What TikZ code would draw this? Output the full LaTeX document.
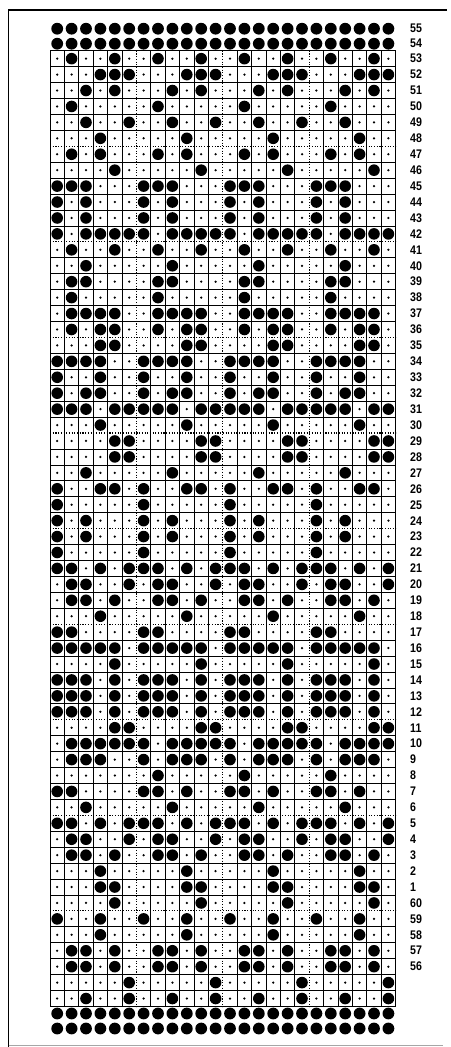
\documentclass[tikz,border=0pt]{standalone}
\usepackage{fontspec}
\newfontfamily\rowfont[FakeStretch=0.85]{Liberation Sans}
\newcommand\colw{14.4}
\newcommand\rowh{15.93}
\newcommand\gridx{50}
\newcommand\gridy{50.7}
% one cell of the card: column, row index, punched or not
\newcommand\punch[3]{%
  \ifnum#3=1
    \fill ({\gridx+(#1-0.5)*\colw},{\gridy+(#2+0.5)*\rowh}) circle (5.8pt);
  \else
    \fill ({\gridx+(#1-0.5)*\colw},{\gridy+(#2+0.5)*\rowh}) circle (1.25pt);
  \fi}

\begin{document}
\begin{tikzpicture}[x=1pt, y=-1pt,
        gridline/.style={line width=0.75pt},
        guide/.style={line width=1.1pt, dash pattern=on 1.1pt off 1.6pt},
        cardborder/.style={line width=0.9pt},
        rownum/.style={font=\rowfont\bfseries\fontsize{12.5}{12.5}\selectfont, anchor=west, inner sep=0pt}
    ]
        \useasboundingbox (0,0) rectangle (450,1047);

        % Card frame
        \draw[line width=1.5pt] (8.5,1047) -- (8.5,10) -- (447,10);
        \draw[line width=0.8pt, black!35] (8.5,1045.5) -- (443,1045.5);

        % Grid, every sixth line dotted
        \foreach \r in {1,...,59} {
            \pgfmathtruncatemacro\m{mod(\r,6)}
            \ifnum\m=0
                \draw[guide] ({\gridx},{\gridy+\r*\rowh}) -- ++({24*\colw},0);
            \else
                \draw[gridline] ({\gridx},{\gridy+\r*\rowh}) -- ++({24*\colw},0);
            \fi
        }
        \foreach \cc in {1,...,23} {
            \pgfmathtruncatemacro\m{mod(\cc,6)}
            \ifnum\m=0
                \draw[guide] ({\gridx+\cc*\colw},{\gridy}) -- ++(0,{60*\rowh});
            \else
                \draw[gridline] ({\gridx+\cc*\colw},{\gridy}) -- ++(0,{60*\rowh});
            \fi
        }
        \draw[cardborder] ({\gridx},{\gridy}) rectangle ++({24*\colw},{60*\rowh});

        % Pattern: one 6-stitch repeat per row, 1 = punched
        \foreach \pa/\pb/\pc/\pd/\pe/\pf [count=\i from 0] in {
            0/1/0/0/1/0, 0/0/0/1/1/1, 0/0/1/0/1/0, 0/1/0/0/0/0, % 53-50
            0/0/1/0/0/1, 0/0/0/1/0/0, 0/1/0/1/0/0, 0/0/0/0/1/0, % 49-46
            1/1/1/0/0/0, 1/0/1/0/0/0, 1/0/1/0/0/0, 1/0/1/1/1/1, % 45-42
            0/1/0/0/1/0, 0/0/1/0/0/0, 0/1/1/0/0/0, 0/1/0/0/0/0, % 41-38
            0/1/1/1/1/0, 0/1/0/1/1/0, 0/0/0/1/1/0, 1/1/1/1/0/0, % 37-34
            1/0/0/1/0/0, 1/0/1/1/0/0, 1/1/1/0/1/1, 0/0/0/1/0/0, % 33-30
            0/0/0/0/1/1, 0/0/0/0/1/1, 0/0/1/0/0/0, 1/0/0/1/1/0, % 29-26
            1/0/0/0/0/0, 1/0/1/0/0/0, 1/0/1/0/0/0, 1/0/0/0/0/0, % 25-22
            1/1/0/1/0/1, 0/1/1/0/0/1, 0/1/1/0/1/0, 0/0/0/1/0/0, % 21-18
            1/1/0/0/0/0, 1/1/1/1/1/0, 0/0/0/0/1/0, 1/1/1/0/1/0, % 17-14
            1/1/1/0/1/0, 1/1/1/0/1/0, 0/0/0/0/1/1, 1/0/1/1/1/1, % 13-10
            1/0/1/1/1/0, 0/1/0/0/0/0, 1/1/0/1/0/0, 0/0/1/0/0/0, % 9-6
            1/1/0/1/0/1, 0/1/1/0/0/1, 0/1/1/0/1/0, 0/0/0/1/0/0, % 5-2
            0/0/0/1/1/0, 0/0/0/0/1/0, 1/0/0/1/0/0, 0/0/0/1/0/0, % 1-58
            0/1/1/0/1/0, 0/1/1/0/1/0, 0/0/0/0/0/1, 0/0/1/0/0/1  % 57-
        } {
            \foreach \k in {0,...,3} {
                \pgfmathtruncatemacro\keep{!((\k==0 && \i>42 && \i<47) || (\k==3 && \i==4))}
                \ifnum\keep=1
                    \foreach \b [count=\j from 1] in {\pa,\pb,\pc,\pd,\pe,\pf} {
                        \pgfmathtruncatemacro\cc{\k*6+\j}
                        \punch{\cc}{\i}{\b}
                    }
                \fi
            }
        }
        % repeats that break the pattern: row index / repeat / cells
        \foreach \oi/\ok/\pa/\pb/\pc/\pd/\pe/\pf in {
            43/0/0/1/1/1/1/1, 44/0/0/1/1/1/0/0, 45/0/0/0/0/0/0/0,
            46/0/1/1/0/0/0/0, 4/3/0/0/1/0/0/0
        } {
            \foreach \b [count=\j from 1] in {\pa,\pb,\pc,\pd,\pe,\pf} {
                \pgfmathtruncatemacro\cc{\ok*6+\j}
                \punch{\cc}{\oi}{\b}
            }
        }

        % Full rows above and below the grid
        \foreach \cc in {1,...,24} {
            \foreach \y in {28.7,43.7,1013.5,1028.5}
                \fill ({\gridx+(\cc-0.5)*\colw},\y) circle (5.9pt);
        }

        % Row numbers
        \node[rownum] (n55) at (410,28.7) {55};
        \node[rownum] (n54) at (410,43.7) {54};
        \foreach \n [count=\i from 0] in {53,52,...,1,60,59,58,57,56}
            \node[rownum] (n\n) at (410,{\gridy+(\i+0.5)*\rowh}) {\n};
    \end{tikzpicture}
\end{document}
